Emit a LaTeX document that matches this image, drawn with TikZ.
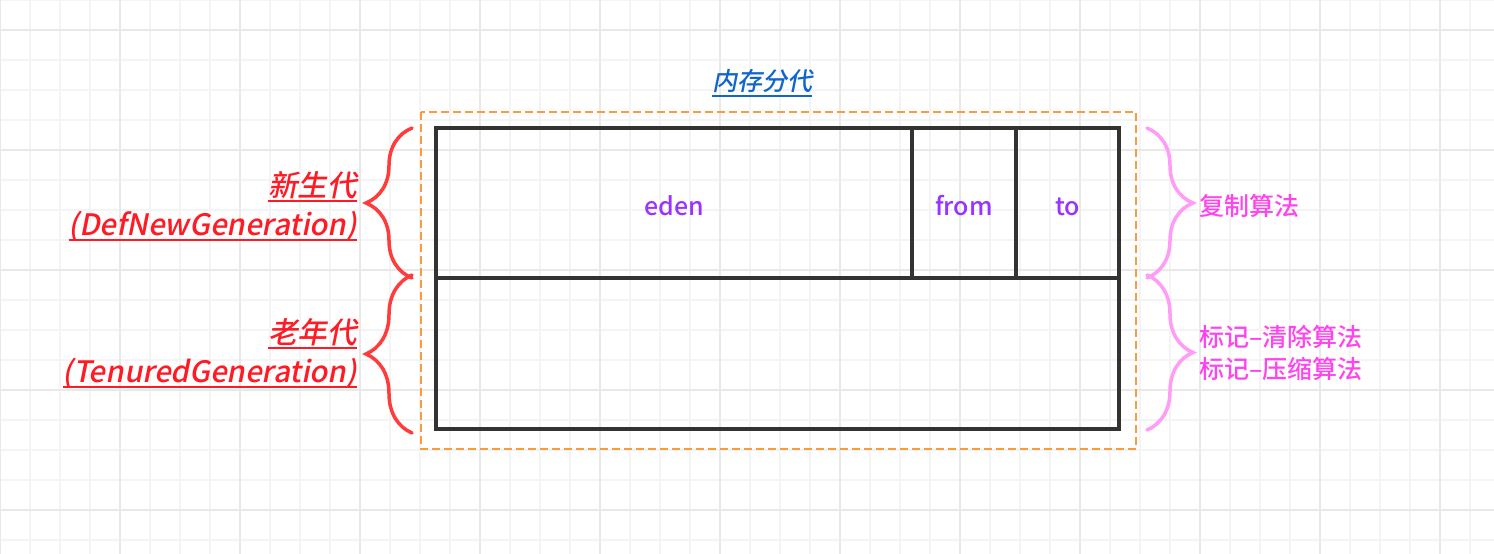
\documentclass[tikz,border=0pt]{standalone}
\usepackage{fontspec}
\setmainfont{Noto Sans CJK SC Medium}
\newfontfamily\cjkit[FakeSlant=0.2]{Noto Sans CJK SC Medium}
\usetikzlibrary{decorations.pathreplacing}
\definecolor{GridMinor}{HTML}{F4F4F4}
\definecolor{GridMajor}{HTML}{E9E9E9}
\definecolor{BoxGray}{HTML}{333333}
\definecolor{DashOrange}{HTML}{FF9A3C}
\definecolor{TitleBlue}{HTML}{1166CC}
\definecolor{GenRed}{HTML}{FF1A24}
\definecolor{BraceRed}{HTML}{FF3B3B}
\definecolor{AreaPurple}{HTML}{9933FF}
\definecolor{AlgoPink}{HTML}{FF44EE}
\definecolor{BracePink}{HTML}{FF9CF8}
\newcommand{\ULine}[1]{\leavevmode\setbox0\hbox{#1}\dp0=0pt\vtop{\copy0\kern4pt\hrule height 2pt}}
\tikzset{
  AreaStyle/.style = { rectangle, draw = BoxGray, line width = 3.5pt,
                       inner sep = 0pt, outer sep = 0pt, text = AreaPurple,
                       text height = 24pt, text depth = 0pt,
                       font = \fontsize{25}{30}\selectfont },
  GenStyle/.style  = { text = GenRed, align = right, anchor = east, inner sep = 0pt,
                       font = \cjkit\fontsize{29.5}{39}\selectfont },
  AlgoStyle/.style = { text = AlgoPink, align = left, anchor = west, inner sep = 0pt,
                       font = \fontsize{25}{32}\selectfont },
  BraceStyle/.style = { decorate, decoration = {brace, amplitude = 46pt},
                        line width = 3.5pt, line cap = round } }

\begin{document}
\begin{tikzpicture}[x=1pt, y=-1pt]
  \useasboundingbox[fill=white] (0,0) rectangle (1494,554);
  % grid
  \foreach \x in {0,30,...,1480} \draw[GridMinor, line width=1.5pt] (\x,0) -- (\x,554);
  \foreach \y in {0,30,...,540} \draw[GridMinor, line width=1.5pt] (0,\y) -- (1494,\y);
  \foreach \x in {0,120,...,1440} \draw[GridMajor, line width=1.5pt] (\x,0) -- (\x,554);
  \foreach \y in {30,150,...,510} \draw[GridMajor, line width=1.5pt] (0,\y) -- (1494,\y);

  \draw[DashOrange, line width=1.5pt, dash pattern=on 8pt off 4pt] (421,112) rectangle (1136,449);
  \node[text=TitleBlue, inner sep=0pt, font=\cjkit\fontsize{25}{30}\selectfont](TITLE) at (762,83){\ULine{内存分代}};

  \node[AreaStyle, minimum width=476pt, minimum height=150pt](EDEN) at (674,203){eden};
  \node[AreaStyle, minimum width=104pt, minimum height=150pt, anchor=west](FROM) at (EDEN.east){from};
  \node[AreaStyle, minimum width=103pt, minimum height=150pt, anchor=west](TO) at (FROM.east){to};
  \node[AreaStyle, minimum width=683pt, minimum height=151pt, anchor=north west](OLD) at (EDEN.south west){};

  \coordinate[xshift=-24pt](YT) at (EDEN.north west);
  \coordinate[xshift=-24pt](YB) at (EDEN.south west);
  \coordinate[xshift=-24pt](OB) at (OLD.south west);
  \coordinate[xshift=28pt](ZT) at (TO.north east);
  \coordinate[xshift=28pt](ZB) at (TO.south east);
  \coordinate[xshift=28pt](WB) at (OLD.south east);

  \draw[BraceStyle, BraceRed] (YB) -- (YT);
  \draw[BraceStyle, BraceRed] ([yshift=-4pt]OB) -- ([yshift=3pt]YB);
  \draw[BraceStyle, BracePink] (ZT) -- (ZB);
  \draw[BraceStyle, BracePink] ([yshift=3pt]ZB) -- ([yshift=-1pt]WB);

  \node[GenStyle](YOUNG) at (357,206){\ULine{新生代}\\\ULine{(DefNewGeneration)}};
  \node[GenStyle](TENURED) at (357,353){\ULine{老年代}\\\ULine{(TenuredGeneration)}};

  \node[AlgoStyle](COPY) at (1199,206){复制算法};
  \node[AlgoStyle](MARK) at (1199,353){标记–清除算法\\标记–压缩算法};
\end{tikzpicture}
\end{document}
